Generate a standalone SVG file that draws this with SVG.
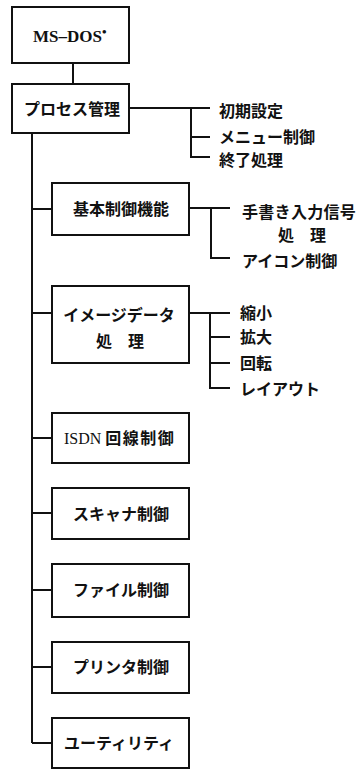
<svg xmlns="http://www.w3.org/2000/svg" width="356" height="769" viewBox="0 0 356 769">
<style>
.box{fill:#fff;stroke:#111;stroke-width:2}
.ln{fill:none;stroke:#111;stroke-width:2}
.t{font-family:"Noto Sans CJK JP","Noto Sans CJK SC",sans-serif;font-size:16px;font-weight:700;fill:#111}
.c{text-anchor:middle}
.s{font-family:"Liberation Serif","Noto Sans CJK JP",serif;fill:#111}
</style>
<rect width="356" height="769" fill="#fff"/>
<g id="connectors">
<path class="ln" d="M73 63V84"/>
<path class="ln" d="M129 108H210M191 108V157H210M191 137H210"/>
<path class="ln" d="M32 133V743"/>
<path class="ln" d="M32 209H52M32 313H52M32 438H52M32 513H52M32 590H52M32 667H52M32 743H52"/>
<path class="ln" d="M189 208H230M211 208V258H230"/>
<path class="ln" d="M189 313H230M210 313V388H230M210 337H230M210 363H230"/>
</g>
<g id="msdos">
<rect class="box" x="12" y="7" width="117" height="56"/>
<text class="s" x="33" y="42" font-size="17" font-weight="700">MS–DOS<tspan font-size="13" dy="-6">•</tspan></text>
</g>
<g id="process">
<rect class="box" x="12" y="84" width="117" height="49"/>
<text class="t c" x="72" y="115">プロセス管理</text>
</g>
<g id="process-items">
<text class="t" x="219" y="117">初期設定</text>
<text class="t" x="219" y="143">メニュー制御</text>
<text class="t" x="219" y="166">終了処理</text>
</g>
<g id="basic">
<rect class="box" x="52" y="183" width="137" height="52"/>
<text class="t c" x="121" y="215">基本制御機能</text>
</g>
<g id="basic-items">
<text class="t" x="242" y="218" letter-spacing="0.3">手書き入力信号</text>
<text class="t" x="278" y="241">処　理</text>
<text class="t" x="242" y="267">アイコン制御</text>
</g>
<g id="image">
<rect class="box" x="52" y="286" width="137" height="77"/>
<text class="t c" x="119" y="321">イメージデータ</text>
<text class="t c" x="120" y="347">処　理</text>
</g>
<g id="image-items">
<text class="t" x="240" y="319">縮小</text>
<text class="t" x="240" y="343">拡大</text>
<text class="t" x="240" y="369">回転</text>
<text class="t" x="240" y="395">レイアウト</text>
</g>
<g id="isdn">
<rect class="box" x="52" y="413" width="137" height="50"/>
<text class="t" x="64" y="444"><tspan class="s" font-size="16" font-weight="400">ISDN </tspan><tspan letter-spacing="1.5">回線制御</tspan></text>
</g>
<g id="scanner">
<rect class="box" x="52" y="488" width="137" height="51"/>
<text class="t c" x="121" y="520">スキャナ制御</text>
</g>
<g id="file">
<rect class="box" x="52" y="564" width="137" height="53"/>
<text class="t c" x="121" y="596">ファイル制御</text>
</g>
<g id="printer">
<rect class="box" x="52" y="642" width="137" height="51"/>
<text class="t c" x="121" y="673">プリンタ制御</text>
</g>
<g id="utility">
<rect class="box" x="52" y="718" width="137" height="50"/>
<text class="t c" x="119" y="749">ユーティリティ</text>
</g>
</svg>
